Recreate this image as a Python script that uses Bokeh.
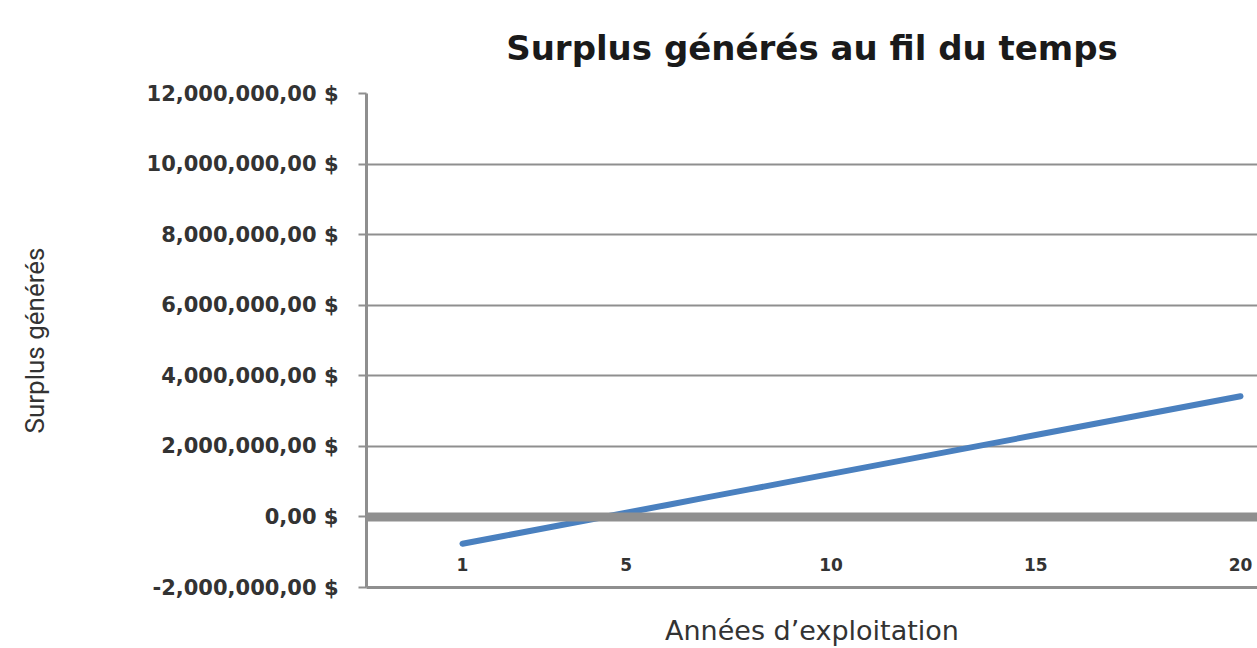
from bokeh.plotting import figure
from bokeh.models import (Range1d, FixedTicker, CustomJSTickFormatter, Span)
from bokeh.embed import file_html
from bokeh.resources import INLINE

# ---- data ----
years = list(range(1, 21))
surplus = [-760000, -540000, -320000, -100000, 120000, 340000, 560000,
           780000, 1000000, 1220000, 1440000, 1660000, 1880000, 2100000,
           2320000, 2540000, 2760000, 2980000, 3200000, 3420000]
x_ticks = [1, 5, 10, 15, 20]
y_ticks = [-2000000, 0, 2000000, 4000000, 6000000, 8000000, 10000000, 12000000]

title_text = "Surplus générés au fil du temps"
x_title = "Années d\u2019exploitation"
y_title = "Surplus générés"

GRAY = "#8f8f8f"
TXT = "#333333"

p = figure(width=1257, height=648, output_backend="svg", toolbar_location=None,
           x_range=Range1d(-1.344, 20.415), y_range=Range1d(-2000000, 12000000),
           min_border_left=366, min_border_right=0, min_border_bottom=10,
           min_border_top=93, x_axis_location="below")

p.title.text = title_text
p.title.align = "center"
p.title.text_font = "DejaVu Sans"
p.title.text_font_style = "bold"
p.title.text_font_size = "34px"
p.title.text_color = "#1a1a1a"
p.title.standoff = 51

p.outline_line_color = None
p.background_fill_color = "white"

# y axis
ya = p.yaxis[0]
ya.ticker = FixedTicker(ticks=y_ticks)
ya.formatter = CustomJSTickFormatter(code="""
const s = Math.abs(tick).toFixed(0).replace(/\\B(?=(\\d{3})+(?!\\d))/g, ',');
return (tick < 0 ? '-' : '') + s + ',00 $';
""")
ya.axis_line_color = GRAY
ya.axis_line_width = 3
ya.major_tick_line_color = GRAY
ya.major_tick_line_width = 2
ya.major_tick_out = 8
ya.major_tick_in = 0
ya.minor_tick_line_color = None
ya.major_label_standoff = 20
ya.major_label_text_font = "DejaVu Sans"
ya.major_label_text_font_style = "bold"
ya.major_label_text_font_size = "21px"
ya.major_label_text_color = TXT
ya.axis_label = y_title
ya.axis_label_text_font = "Roboto"
ya.axis_label_text_font_style = "normal"
ya.axis_label_text_font_size = "26px"
ya.axis_label_text_color = TXT
ya.axis_label_standoff = 94

# x axis
xa = p.xaxis[0]
xa.ticker = FixedTicker(ticks=x_ticks)
xa.axis_line_color = GRAY
xa.axis_line_width = 3
xa.major_tick_line_color = None
xa.minor_tick_line_color = None
xa.major_tick_out = 0
xa.major_tick_in = 0
xa.major_label_standoff = -30
xa.major_label_text_font = "DejaVu Sans"
xa.major_label_text_font_style = "bold"
xa.major_label_text_font_size = "17px"
xa.major_label_text_color = TXT
xa.axis_label = x_title
xa.axis_label_text_font = "DejaVu Sans"
xa.axis_label_text_font_style = "normal"
xa.axis_label_text_font_size = "27px"
xa.axis_label_text_color = TXT
xa.axis_label_standoff = 41

# grid
p.xgrid.grid_line_color = None
p.ygrid.ticker = FixedTicker(ticks=y_ticks)
p.ygrid.grid_line_color = GRAY
p.ygrid.grid_line_width = 2

# zero line
p.add_layout(Span(location=0, dimension="width", line_color=GRAY, line_width=9))

p.line(years, surplus, line_color="#4a80bf", line_width=6, line_cap="round")

open("out.html", "w").write(file_html(p, INLINE))
